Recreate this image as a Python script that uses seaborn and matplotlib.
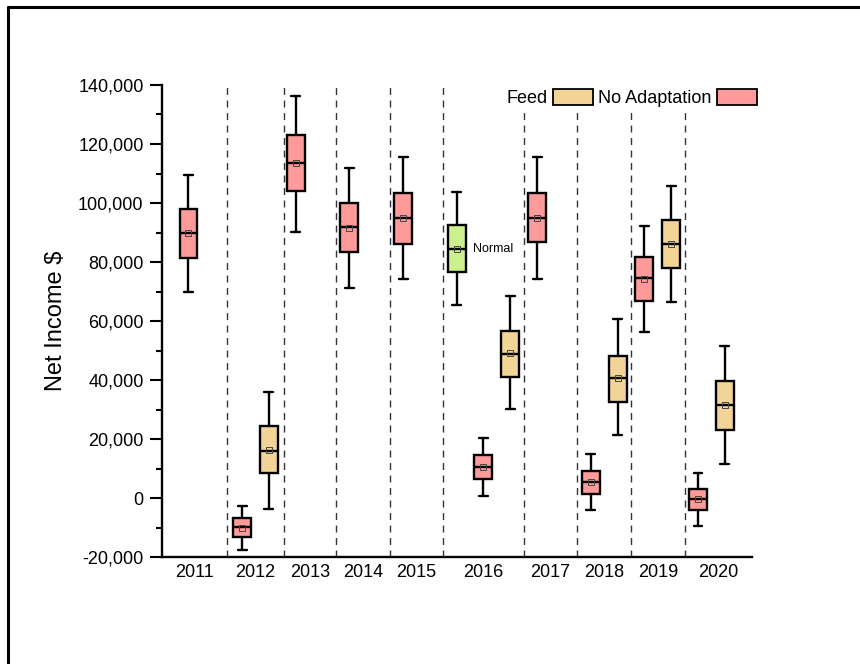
import matplotlib
matplotlib.use('Agg')
import matplotlib.pyplot as plt
from matplotlib.lines import Line2D
from matplotlib.patches import Patch
from matplotlib.ticker import FuncFormatter, MultipleLocator
import numpy as np
import pandas as pd
import seaborn as sns

sns.set_style('ticks')
plt.rcParams['font.family'] = ['Liberation Sans', 'DejaVu Sans']
plt.rcParams.update({
    'text.color': 'black',
    'axes.labelcolor': 'black',
    'axes.edgecolor': 'black',
    'xtick.color': 'black',
    'ytick.color': 'black',
})

RED = '#FF9A9A'
TAN = '#F2D497'
GREEN = '#CDF08E'

# Five-number summaries (thousand $), one entry per box
years = ['2011', '2012', '2013', '2014', '2015', '2016', '2017', '2018', '2019', '2020']
box_year = ['2011', '2012', '2012', '2013', '2014', '2015', '2016', '2016', '2016',
            '2017', '2018', '2018', '2019', '2019', '2020', '2020']
box_slot = [1, 3, 4, 5, 7, 9, 11, 12, 13, 14, 16, 17, 18, 19, 20, 21]
box_group = ['No Adaptation', 'No Adaptation', 'Feed', 'No Adaptation', 'No Adaptation',
             'No Adaptation', 'Normal', 'No Adaptation', 'Feed', 'No Adaptation',
             'No Adaptation', 'Feed', 'No Adaptation', 'Feed', 'No Adaptation', 'Feed']
whisker_low = [70.0, -17.5, -3.6, 90.3, 71.2, 74.1, 65.4, 0.6, 30.2, 74.3,
               -4.1, 21.5, 56.3, 66.3, -9.4, 11.6]
quartile_1 = [81.5, -13.1, 8.6, 104.0, 83.3, 86.1, 76.6, 6.4, 40.9, 86.7,
              1.4, 32.4, 66.9, 78.0, -4.2, 23.0]
medians = [90.0, -9.9, 16.0, 113.5, 92.0, 95.0, 84.5, 10.6, 48.9, 95.0,
           5.4, 40.6, 74.5, 86.1, -0.3, 31.4]
quartile_3 = [98.0, -6.9, 24.4, 123.0, 99.9, 103.3, 92.4, 14.6, 56.5, 103.3,
              9.3, 48.2, 81.7, 94.1, 3.2, 39.7]
whisker_high = [109.5, -2.7, 36.0, 136.4, 111.9, 115.5, 103.6, 20.3, 68.6, 115.6,
                14.9, 60.7, 92.3, 105.7, 8.4, 51.5]

# year separators (slot units)
separators = [2.45, 4.55, 6.5, 8.5, 10.5, 13.5, 15.5, 17.5, 19.5]

rows = []
for i in range(len(box_slot)):
    for v in (whisker_low[i], quartile_1[i], medians[i], quartile_3[i], whisker_high[i]):
        rows.append({'slot': box_slot[i], 'group': box_group[i], 'income': v * 1000})
df = pd.DataFrame(rows)

palette = {'No Adaptation': RED, 'Feed': TAN, 'Normal': GREEN}

fig = plt.figure(figsize=(8.6, 6.64), dpi=100)
ax = fig.add_axes([0.188, 0.161, 0.686, 0.711])

sns.boxplot(data=df, x='slot', y='income', hue='group', palette=palette,
            native_scale=True, dodge=False, width=0.67, whis=(0, 100),
            linecolor='black', linewidth=1.7, saturation=1, legend=False,
            showmeans=True,
            meanprops=dict(marker='s', markersize=4.5, markerfacecolor='none',
                           markeredgecolor='#444444', markeredgewidth=0.7),
            medianprops=dict(color='black', linewidth=1.7),
            ax=ax)

for s in separators:
    ax.axvline(s, color='#333333', linestyle=(0, (5, 4)), linewidth=1.0, zorder=1)

ax.set_xlim(0, 22)
ax.set_ylim(-20000, 140000)
edges = [0] + separators + [22]
ax.set_xticks([(edges[k] + edges[k + 1]) / 2 for k in range(len(years))])
ax.set_xticklabels(years, fontsize=13)
ax.tick_params(axis='x', length=0, pad=5)

ax.yaxis.set_major_locator(MultipleLocator(20000))
ax.yaxis.set_minor_locator(MultipleLocator(10000))
ax.yaxis.set_major_formatter(FuncFormatter(lambda v, p: f'{v:,.0f}'))
ax.tick_params(axis='y', which='major', length=9, width=1.5, labelsize=13, pad=4)
ax.tick_params(axis='y', which='minor', length=4, width=1.5)

for side in ('top', 'right'):
    ax.spines[side].set_visible(False)
for side in ('left', 'bottom'):
    ax.spines[side].set_linewidth(1.7)

ax.set_xlabel('')
ax.set_ylabel('Net Income $', fontsize=17, labelpad=8)

ax.text(11.6, 84500, 'Normal', fontsize=9, ha='left', va='center')

handles = [Patch(facecolor=TAN, edgecolor='black', linewidth=1.3, label='Feed'),
           Patch(facecolor=RED, edgecolor='black', linewidth=1.3, label='No Adaptation')]
leg = ax.legend(handles=handles, ncol=2, markerfirst=False, loc='upper right',
                bbox_to_anchor=(1.015, 1.0), fontsize=13, frameon=True,
                handlelength=2.2, handleheight=1.0, handletextpad=0.3,
                columnspacing=0.3, borderpad=0.2, borderaxespad=0)
leg.get_frame().set_facecolor('white')
leg.get_frame().set_edgecolor('none')
leg.get_frame().set_alpha(1)
leg.set_zorder(5)

# outer frame of the original picture (left and top edges only)
fig.add_artist(Line2D([8 / 860, 8 / 860], [0, 1 - 7 / 664], color='black', linewidth=2.2))
fig.add_artist(Line2D([8 / 860, 1], [1 - 7 / 664, 1 - 7 / 664], color='black', linewidth=2.2))

fig.savefig('out.png', dpi=100)
plt.close(fig)
